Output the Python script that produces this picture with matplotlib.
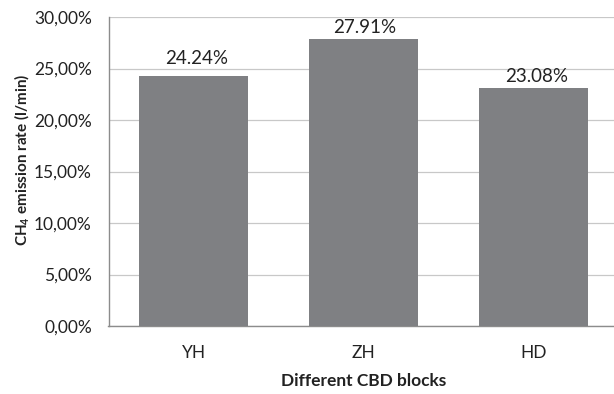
import matplotlib
matplotlib.use("Agg")
import matplotlib.pyplot as plt
from matplotlib.ticker import FuncFormatter, MultipleLocator

blocks = ["YH", "ZH", "HD"]
rates = [24.24, 27.91, 23.08]
value_labels = ["24.24%", "27.91%", "23.08%"]

plt.rcParams["font.family"] = ["Lato", "DejaVu Sans"]
plt.rcParams["mathtext.default"] = "regular"

fig = plt.figure(figsize=(6.14, 3.94), dpi=100)
W, H = 614, 394
left, right, top, bottom = 108.5, 618.5, 17, 326
ax = fig.add_axes([left / W, 1 - bottom / H, (right - left) / W, (bottom - top) / H])

x = range(len(blocks))
bars = ax.bar(x, rates, width=0.64, color="#7f8083", zorder=3)
# label offsets (points) above each bar
label_offsets = [(2, 7), (0.5, 2), (2, 2)]
for b, lab, off in zip(bars, value_labels, label_offsets):
    ax.annotate(lab, (b.get_x() + b.get_width() / 2, b.get_height()),
                xytext=off, textcoords="offset points",
                ha="center", va="bottom", fontsize=13.5, color="#222222")

ax.set_xlim(-0.5, 2.5)
ax.set_ylim(0, 30)
ax.yaxis.set_major_locator(MultipleLocator(5))
ax.yaxis.set_major_formatter(FuncFormatter(lambda v, _: f"{v:.2f}%".replace(".", ",")))
ax.set_xticks(list(x))
ax.set_xticklabels(blocks)
ax.grid(axis="y", color="#c8c8c8", linewidth=0.9, zorder=0)

for s in ["top", "right"]:
    ax.spines[s].set_visible(False)
for s in ["left", "bottom"]:
    ax.spines[s].set_color("#8c8c8c")
    ax.spines[s].set_linewidth(1.0)

ax.tick_params(axis="both", length=0, labelsize=12.5, colors="#222222")
ax.tick_params(axis="y", pad=12)
ax.tick_params(axis="x", pad=14)

ax.set_ylabel("CH$_4$ emission rate (l/min)", fontsize=11, fontweight="bold",
              color="#222222")
ax.yaxis.set_label_coords(-0.152, 0.537)
ax.set_xlabel("Different CBD blocks", fontsize=12.5, fontweight="bold",
              color="#222222", labelpad=8)

fig.savefig("out.png", dpi=100)
